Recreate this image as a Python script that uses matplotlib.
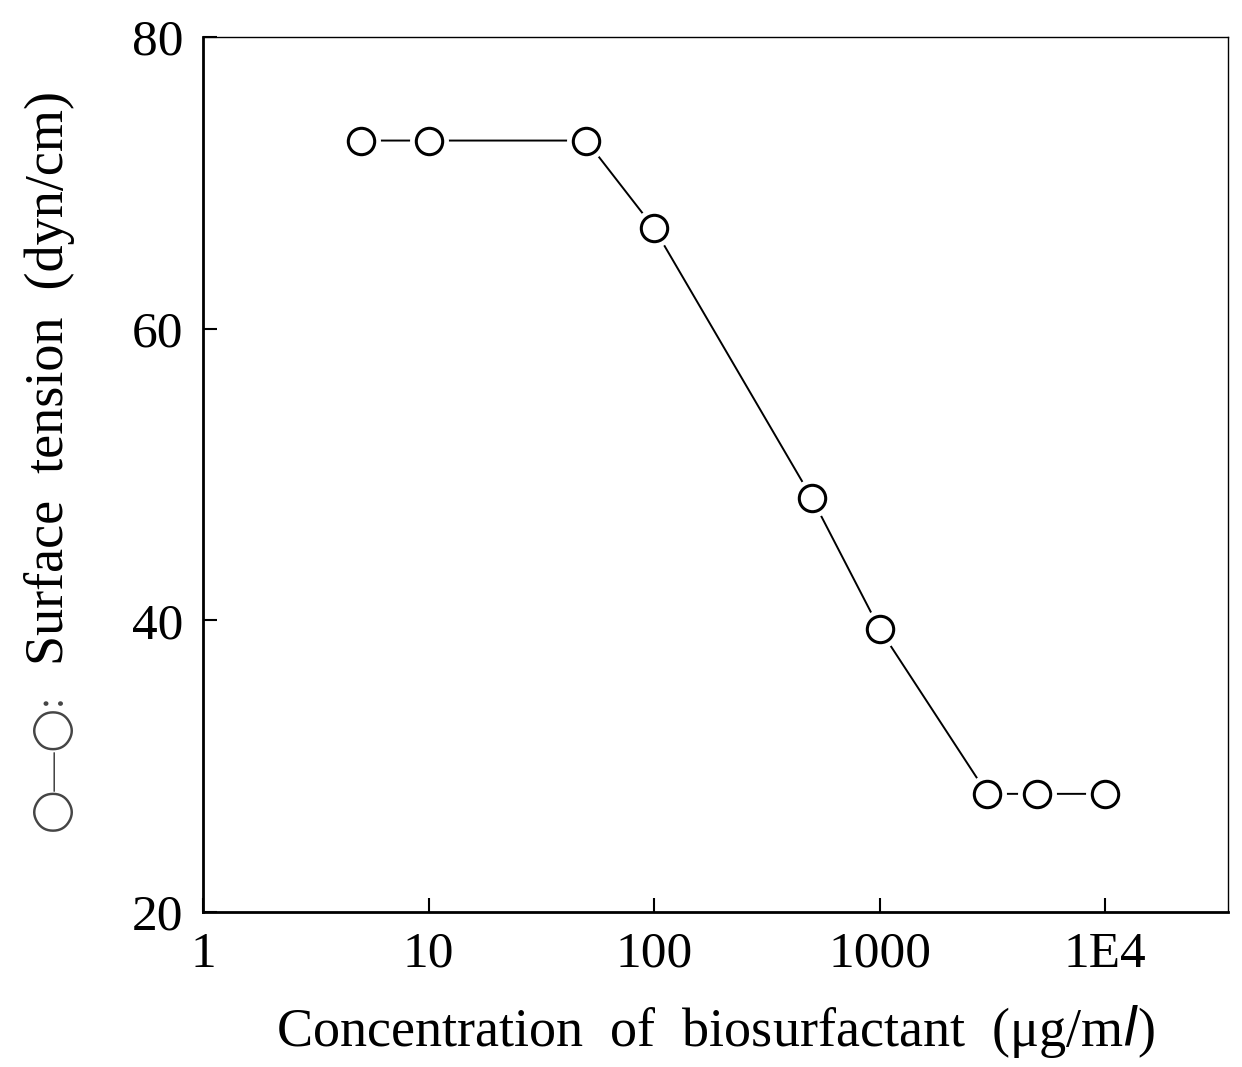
import numpy as np
from matplotlib import pyplot as plt

conc = [5, 10, 50, 100, 500, 1000, 3000, 5000, 10000]
tension = [72.9, 72.9, 72.9, 66.9, 48.4, 39.4, 28.1, 28.1, 28.1]

xticks = [1, 10, 100, 1000, 10000]
xticklabels = ["1", "10", "100", "1000", "1E4"]
yticks = [20, 40, 60, 80]

plt.rcParams['font.family'] = ['Liberation Serif', 'DejaVu Sans']

fig = plt.figure(figsize=(12.42, 10.67), dpi=100)
ax = fig.add_axes([0.1634, 0.1453, 0.8253, 0.82])

ax.plot(conc, tension, color='black', lw=1.4, zorder=1)
# white halo so the line stops short of each circle
ax.plot(conc, tension, 'o', ms=27, mfc='white', mec='white', zorder=2)
ax.plot(conc, tension, 'o', ms=19, mfc='white', mec='black', mew=2.2, zorder=3)

ax.set_xscale('log')
ax.set_xlim(1, 35000)
ax.set_ylim(20, 80)
ax.set_xticks(xticks)
ax.set_xticklabels(xticklabels)
ax.xaxis.set_minor_locator(plt.NullLocator())
ax.set_yticks(yticks)
ax.tick_params(direction='in', length=10, width=1.5, labelsize=37, pad=14)

for s in ['left', 'bottom']:
    ax.spines[s].set_linewidth(2)
for s in ['top', 'right']:
    ax.spines[s].set_linewidth(1)

ax.set_xlabel("Concentration  of  biosurfactant  (\u03bcg/m$l$)", fontsize=39, labelpad=18)
ax.set_ylabel("Surface  tension  (dyn/cm)", fontsize=39)
ax.yaxis.set_label_coords(-0.125, 0.61)

# symbol key in front of the y label
fig.text(0.042, 0.349, "\u25ef\u2014\u25ef:", rotation=90, fontsize=28,
         ha='center', va='top', color='#444444')

fig.savefig("out.png", dpi=100)
